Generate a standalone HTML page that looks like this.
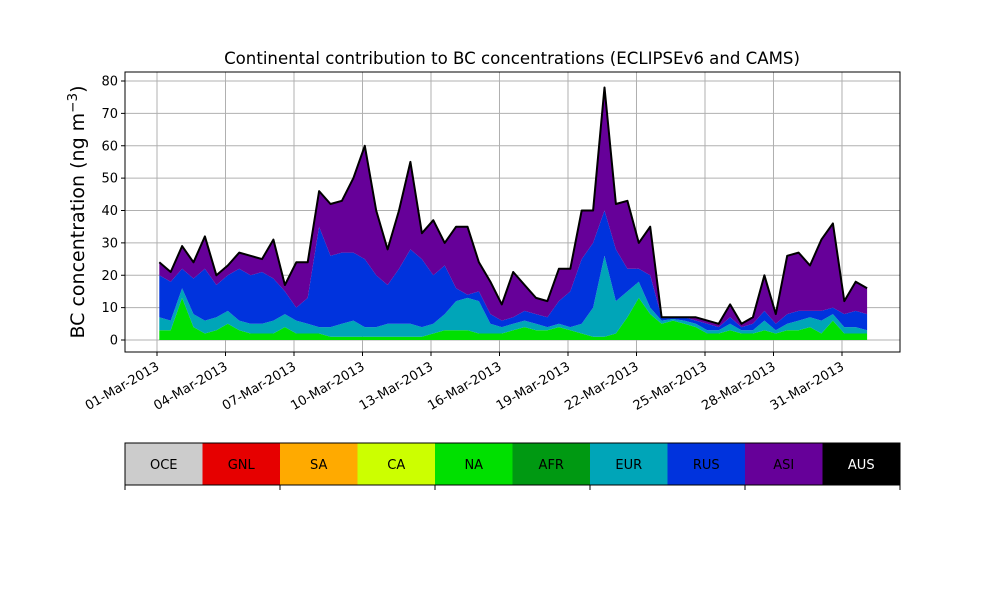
<!DOCTYPE html>
<html><head><meta charset="utf-8"><style>
body{margin:0;background:#fff;font-family:"DejaVu Sans",sans-serif}
svg text{font-family:"DejaVu Sans","Liberation Sans",sans-serif}
</style></head><body>
<svg id="c" width="1000" height="600"></svg>
<script>
const days=["01-Mar-2013","04-Mar-2013","07-Mar-2013","10-Mar-2013","13-Mar-2013","16-Mar-2013","19-Mar-2013","22-Mar-2013","25-Mar-2013","28-Mar-2013","31-Mar-2013"];
const yTicks=[0,10,20,30,40,50,60,70,80];
const startDay=0.1, stepDay=0.5;
const na=[3,3,13,4,2,3,5,3,2,2,2,4,2,2,2,1,1,1,1,1,1,1,1,1,2,3,3,3,2,2,2,3,4,3,3,4,3,2,1,1,2,7,13,8,5,6,5,4,2,2,3,2,2,3,2,3,3,4,2,6,2,2,2];
const eur=[4,3,3,4,4,4,4,3,3,3,4,4,4,3,2,3,4,5,3,3,4,4,4,3,3,5,9,10,10,3,2,2,2,2,1,1,1,3,9,25,10,8,5,2,1,0.5,1,1,1,1,2,1,1,3,1,2,3,3,4,2,2,2,1];
const rus=[13,12,6,11,16,10,11,16,15,16,13,7,4,8,31,22,22,21,21,16,12,17,23,21,15,15,4,1,3,3,2,2,3,3,3,7,11,20,20,14,16,7,4,10,1,0.5,1,1,2,1,2,1,2,3,2,3,3,2,3,2,4,5,5];
const asi=[4,3,7,5,10,3,3,5,6,4,12,2,14,11,11,16,16,23,35,20,11,18,27,8,17,7,19,21,9,10,5,14,8,5,5,10,7,15,10,38,14,21,8,15,0,0,0,1,1,1,4,1,2,11,3,18,18,14,22,26,4,9,8];
const seriesNames=["NA","EUR","RUS","ASI"];
const seriesColors=["#00e000","#00a5b8","#0033dd","#660099"];
const legendNames=["OCE","GNL","SA","CA","NA","AFR","EUR","RUS","ASI","AUS"];
const legendColors=["#cccccc","#e60000","#ffaa00","#ccff00","#00e000","#009912","#00a5b8","#0033dd","#660099","#000000"];

const NS="http://www.w3.org/2000/svg";
const svg=document.getElementById('c');
const L=125,R=900,T=72,B=352;
const X=d=>157+d*22.833;
const Y=v=>340-v*3.2375;
function el(tag,attrs,parent){const e=document.createElementNS(NS,tag);for(const k in attrs)e.setAttribute(k,attrs[k]);(parent||svg).appendChild(e);return e;}

yTicks.forEach(v=>{
  const g=el('line',{x1:L,x2:R,y1:Y(v),y2:Y(v),stroke:'#b0b0b0','stroke-width':1});
  
  
});
days.forEach((d,i)=>{
  const g=el('line',{x1:X(i*3),x2:X(i*3),y1:T,y2:B,stroke:'#b0b0b0','stroke-width':1});
  
  
});

const all=[na,eur,rus,asi];
let base=na.map(()=>0);
all.forEach((s,si)=>{
  const top=s.map((v,i)=>base[i]+v);
  let dstr='';
  top.forEach((v,i)=>{dstr+=(i?'L':'M')+X(startDay+i*stepDay).toFixed(1)+','+Y(v).toFixed(1);});
  for(let i=base.length-1;i>=0;i--)dstr+='L'+X(startDay+i*stepDay).toFixed(1)+','+Y(base[i]).toFixed(1);
  const p=el('path',{d:dstr+'Z',fill:seriesColors[si],stroke:'none'});
  
  
  base=top;
});
let ld='';
base.forEach((v,i)=>{ld+=(i?'L':'M')+X(startDay+i*stepDay).toFixed(1)+','+Y(v).toFixed(1);});
const tl=el('path',{d:ld,fill:'none',stroke:'#000','stroke-width':2,'stroke-linejoin':'round'});



const fr=el('rect',{x:L,y:T,width:R-L,height:B-T,fill:'none',stroke:'#000','stroke-width':1});



yTicks.forEach(v=>{
  el('line',{x1:L-4,x2:L,y1:Y(v),y2:Y(v),stroke:'#000'});
  const t=el('text',{x:L-7,y:Y(v)+4.5,'text-anchor':'end','font-size':13});
  t.textContent=v;
  
  
});
days.forEach((d,i)=>{
  const x=X(i*3);
  el('line',{x1:x,x2:x,y1:B,y2:B+4,stroke:'#000'});
  const t=el('text',{x:x+3,y:B+17,'text-anchor':'end','font-size':13,transform:`rotate(-30 ${x+3} ${B+17})`});
  t.textContent=d;
  
  
});
</script>
<svg width="1000" height="600" style="position:absolute;left:0;top:0">
<text x="512" y="64" text-anchor="middle" font-size="16.6">Continental contribution to BC concentrations (ECLIPSEv6 and CAMS)</text>
<text transform="translate(84 212) rotate(-90)" text-anchor="middle" font-size="19">BC concentration (ng m<tspan dy="-7" font-size="13.5">−3</tspan><tspan dy="7">)</tspan></text>
<g id="leg"></g>
</svg>
<script>
(function(){
const g=document.getElementById('leg');
const NS="http://www.w3.org/2000/svg";
const w=77.5;
legendNames.forEach((n,i)=>{
  const r=document.createElementNS(NS,'rect');
  r.setAttribute('x',125+i*w);r.setAttribute('y',443);r.setAttribute('width',w+0.5);r.setAttribute('height',42);r.setAttribute('fill',legendColors[i]);
  
  
  g.appendChild(r);
  const t=document.createElementNS(NS,'text');
  t.setAttribute('x',125+i*w+w/2);t.setAttribute('y',469);t.setAttribute('text-anchor','middle');t.setAttribute('font-size',13);
  t.setAttribute('fill',n==='AUS'?'#fff':'#000');
  t.textContent=n;
  
  
  g.appendChild(t);
});
const f=document.createElementNS(NS,'rect');
f.setAttribute('x',125);f.setAttribute('y',443);f.setAttribute('width',775);f.setAttribute('height',42);f.setAttribute('fill','none');f.setAttribute('stroke','#000');


g.appendChild(f);
for(let i=0;i<=5;i++){
  const l=document.createElementNS(NS,'line');
  const x=125+i*155;
  l.setAttribute('x1',x);l.setAttribute('x2',x);l.setAttribute('y1',485);l.setAttribute('y2',490);l.setAttribute('stroke','#000');
  
  
  g.appendChild(l);
}
})();
</script>
</body></html>
